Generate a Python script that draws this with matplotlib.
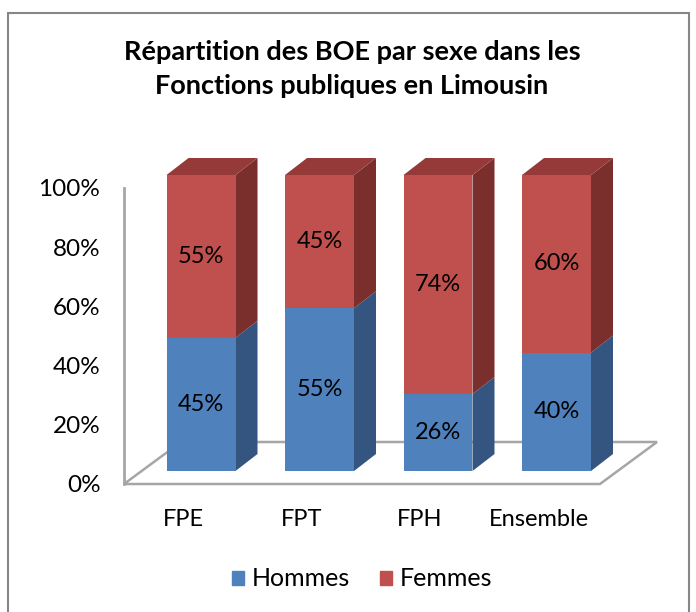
import matplotlib.pyplot as plt
from matplotlib.patches import Polygon, Rectangle, Patch
from matplotlib.transforms import offset_copy

plt.rcParams['font.family'] = ['Lato', 'DejaVu Sans']

# data
categories = ["FPE", "FPT", "FPH", "Ensemble"]
hommes = [45, 55, 26, 40]
femmes = [55, 45, 74, 60]
yticks = [0, 20, 40, 60, 80, 100]

blue = "#4F81BD"
blue_side = "#34557F"
red = "#C0504D"
red_side = "#7B2F2D"
red_top = "#953A38"
grey = "#A6A6A6"

W, H = 696, 612
fig = plt.figure(figsize=(W / 100, H / 100), dpi=100)


def box(left, right, top, bottom):
    return [left / W, 1 - bottom / H, (right - left) / W, (bottom - top) / H]


# outer chart border
fig.patches.append(Rectangle((8 / W, -0.05), (689 - 8) / W, 1.05 - 13 / H,
                             transform=fig.transFigure, fill=False,
                             edgecolor="#868686", lw=1.5))

# value axis (back wall edge)
ax_v = fig.add_axes(box(124, 657, 188, 484))
ax_v.set_xlim(0, 1)
ax_v.set_ylim(0, 100)
ax_v.set_yticks(yticks)
ax_v.set_yticklabels([f"{v}%" for v in yticks], fontsize=17.5)
ax_v.tick_params(axis="y", length=0, pad=17)
ax_v.set_xticks([])
for s in ["top", "right", "bottom"]:
    ax_v.spines[s].set_visible(False)
ax_v.spines["left"].set_color(grey)
ax_v.spines["left"].set_linewidth(2)
ax_v.patch.set_visible(False)

# floor
depth_x = 57 / 533
depth_y = 42 / 296
front_w = (600 - 124) / 533
ax_v.add_patch(Polygon([(0, 0), (front_w, 0), (front_w + depth_x, depth_y), (depth_x, depth_y)],
                       closed=True, transform=ax_v.transAxes, facecolor="white",
                       edgecolor=grey, lw=1.8, clip_on=False, zorder=1))

# bars (front faces)
ax = fig.add_axes(box(124, 657, 175, 471))
ax.set_xlim(-0.65, 3.848)
ax.set_ylim(0, 100)
ax.axis("off")

x = list(range(len(categories)))
width = 0.582
dx = 22 / 118.5
dy = 17 / 296 * 100

ax.bar(x, hommes, width=width, color=blue, zorder=3, clip_on=False)
ax.bar(x, femmes, width=width, bottom=hommes, color=red, zorder=3, clip_on=False)

for i in x:
    xr = i + width / 2
    xl = i - width / 2
    h = hommes[i]
    t = hommes[i] + femmes[i]
    ax.add_patch(Polygon([(xr, 0), (xr + dx, dy), (xr + dx, h + dy), (xr, h)],
                         facecolor=blue_side, edgecolor="none", zorder=2, clip_on=False))
    ax.add_patch(Polygon([(xr, h), (xr + dx, h + dy), (xr + dx, t + dy), (xr, t)],
                         facecolor=red_side, edgecolor="none", zorder=2, clip_on=False))
    ax.add_patch(Polygon([(xl, t), (xl + dx, t + dy), (xr + dx, t + dy), (xr, t)],
                         facecolor=red_top, edgecolor="none", zorder=2, clip_on=False))
    ax.text(i, h / 2, f"{h}%", ha="center", va="center", fontsize=17, zorder=5)
    ax.text(i, h + femmes[i] / 2, f"{femmes[i]}%", ha="center", va="center",
            fontsize=17, zorder=5)
    ax.text(i, 0, categories[i], ha="center", va="center", fontsize=17,
            transform=offset_copy(ax.transData, fig=fig, x=-18, y=-48, units="dots"))

# title
fig.text(352 / W, 1 - 69 / H, "Répartition des BOE par sexe dans les\nFonctions publiques en Limousin",
         ha="center", va="center", fontsize=19.5, fontweight="bold", linespacing=1.5)

# legend
handles = [Patch(color=blue, label="Hommes"), Patch(color=red, label="Femmes")]
fig.legend(handles=handles, loc="center", bbox_to_anchor=(362 / W, 1 - 579 / H), ncol=2,
           frameon=False, fontsize=18, handlelength=0.5, handleheight=0.5,
           handletextpad=0.3, columnspacing=1.2)

fig.savefig("out.png", dpi=100)
